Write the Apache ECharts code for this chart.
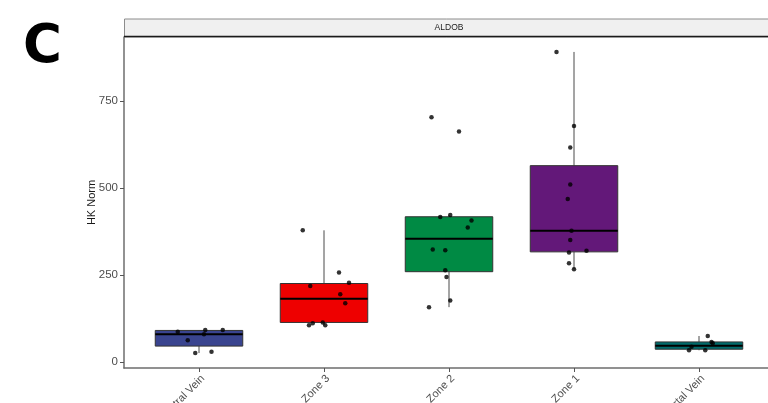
<!DOCTYPE html>
<html>
<head>
<meta charset="utf-8">
<script src="https://cdn.jsdelivr.net/npm/echarts@6/dist/echarts.min.js"></script>
<style>
html,body{margin:0;padding:0;background:#fff;}
#chart{width:768px;height:403px;}
</style>
</head>
<body>
<div id="chart"></div>
<script>
// ---- data ----
const categories = ['Central Vein', 'Zone 3', 'Zone 2', 'Zone 1', 'Portal Vein'];
const yTicks = [0, 250, 500, 750];
// box stats: [min, Q1, median, Q3, max]
const boxCentralVein = [26, 46, 80, 91, 92];
const boxZone3 = [106, 114, 182, 226, 379];
const boxZone2 = [158, 260, 355, 418, 423];
const boxZone1 = [267, 317, 378, 565, 892];
const boxPortalVein = [34, 37, 47, 58, 75];
// jittered points: values and horizontal jitter (category units)
const ptsCentralVein = [87, 63, 92, 80, 92, 26, 30];
const jitCentralVein = [-0.17, -0.09, 0.05, 0.04, 0.19, -0.03, 0.10];
const ptsZone3 = [379, 258, 228, 219, 195, 169, 112, 106, 114, 106];
const jitZone3 = [-0.17, 0.12, 0.20, -0.11, 0.13, 0.17, -0.09, -0.12, -0.01, 0.01];
const ptsZone2 = [704, 663, 417, 423, 407, 387, 324, 322, 264, 245, 177, 158];
const jitZone2 = [-0.14, 0.08, -0.07, 0.01, 0.18, 0.15, -0.13, -0.03, -0.03, -0.02, 0.01, -0.16];
const ptsZone1 = [892, 679, 617, 511, 469, 378, 351, 315, 320, 284, 267];
const jitZone1 = [-0.14, 0.00, -0.03, -0.03, -0.05, -0.02, -0.03, -0.04, 0.10, -0.04, 0.00];
const ptsPortalVein = [75, 58, 54, 44, 34, 34];
const jitPortalVein = [0.07, 0.10, 0.11, -0.06, -0.08, 0.05];

// ---- style ----
const fills = ['#39448f', '#ee0000', '#008a44', '#631879', '#006a6a'];

const boxes = [boxCentralVein, boxZone3, boxZone2, boxZone1, boxPortalVein];
const pts = [ptsCentralVein, ptsZone3, ptsZone2, ptsZone1, ptsPortalVein];
const jits = [jitCentralVein, jitZone3, jitZone2, jitZone1, jitPortalVein];

const boxData = boxes.map((b, i) => [i + 1].concat(b));
const scatterData = [];
pts.forEach((arr, i) => arr.forEach((v, j) => scatterData.push([i + 1 + jits[i][j], v])));
const catPos = categories.map((c, i) => i + 1);

const chart = echarts.init(document.getElementById('chart'), null, {renderer: 'canvas'});
const font = 'Liberation Sans, Arial, sans-serif';

chart.setOption({
  animation: false,
  backgroundColor: '#ffffff',
  title: [
    {text: 'C', left: 18, top: 17, textStyle: {fontFamily: 'DejaVu Sans, sans-serif', fontWeight: 'bold', fontSize: 53, color: '#000'}},
    {text: 'ALDOB', left: 449, top: 23.5, textAlign: 'center', padding: 0, textStyle: {fontFamily: font, fontWeight: 'normal', fontSize: 8.5, color: '#1a1a1a'}}
  ],
  graphic: [
    {type: 'rect', left: 124, top: 18.5, shape: {width: 660, height: 18}, style: {fill: '#f0f0f0', stroke: '#8c8c8c', lineWidth: 1}, z: 0},
    {type: 'line', shape: {x1: 124, y1: 36.5, x2: 784, y2: 36.5}, style: {stroke: '#1a1a1a', lineWidth: 1.3}, z: 1}
  ],
  grid: {left: 124, top: 37, width: 650, height: 331, containLabel: false, outerBoundsMode: 'none'},
  xAxis: {
    type: 'value', min: 0.4, max: 5.6,
    splitLine: {show: false},
    axisLine: {show: true, onZero: false, lineStyle: {color: '#6e6e6e', width: 1.5}},
    axisTick: {show: true, customValues: catPos, length: 4, lineStyle: {color: '#555', width: 1}},
    axisLabel: {
      customValues: catPos, rotate: 45, margin: 5, align: 'right', verticalAlign: 'top',
      formatter: v => categories[Math.round(v) - 1] || '',
      fontFamily: font, fontSize: 11, color: '#4d4d4d'
    }
  },
  yAxis: {
    type: 'value', min: -17, max: 935,
    name: 'HK Norm', nameLocation: 'middle', nameRotate: 90, nameGap: 27, nameMoveOverlap: false,
    nameTextStyle: {fontFamily: font, fontSize: 11, color: '#1a1a1a'},
    splitLine: {show: false},
    axisLine: {show: true, onZero: false, lineStyle: {color: '#6e6e6e', width: 1.5}},
    axisTick: {show: true, customValues: yTicks, length: 4, lineStyle: {color: '#555', width: 1}},
    axisLabel: {customValues: yTicks, margin: 6, fontFamily: font, fontSize: 11.5, color: '#4d4d4d'}
  },
  series: [
    {
      type: 'custom',
      data: boxData,
      encode: {x: 0, y: [1, 2, 3, 4, 5]},
      z: 2,
      renderItem: function (params, api) {
        const x = api.value(0);
        const pMin = api.coord([x, api.value(1)]);
        const pQ1 = api.coord([x, api.value(2)]);
        const pMed = api.coord([x, api.value(3)]);
        const pQ3 = api.coord([x, api.value(4)]);
        const pMax = api.coord([x, api.value(5)]);
        const w = api.size([0.7, 0])[0];
        const cx = pQ1[0];
        const idx = params.dataIndex;
        return {
          type: 'group',
          children: [
            {type: 'line', shape: {x1: cx, y1: pQ3[1], x2: cx, y2: pMax[1]}, style: {stroke: '#4a4a4a', lineWidth: 1}},
            {type: 'line', shape: {x1: cx, y1: pQ1[1], x2: cx, y2: pMin[1]}, style: {stroke: '#4a4a4a', lineWidth: 1}},
            {type: 'rect', shape: {x: cx - w / 2, y: pQ3[1], width: w, height: pQ1[1] - pQ3[1]}, style: {fill: fills[idx], stroke: '#333333', lineWidth: 1}},
            {type: 'line', shape: {x1: cx - w / 2, y1: pMed[1], x2: cx + w / 2, y2: pMed[1]}, style: {stroke: '#000000', lineWidth: 2}}
          ]
        };
      }
    },
    {
      type: 'scatter',
      data: scatterData,
      symbol: 'circle',
      symbolSize: 4.5,
      z: 3,
      itemStyle: {color: '#000000'}
    }
  ]
});
</script>
</body>
</html>
